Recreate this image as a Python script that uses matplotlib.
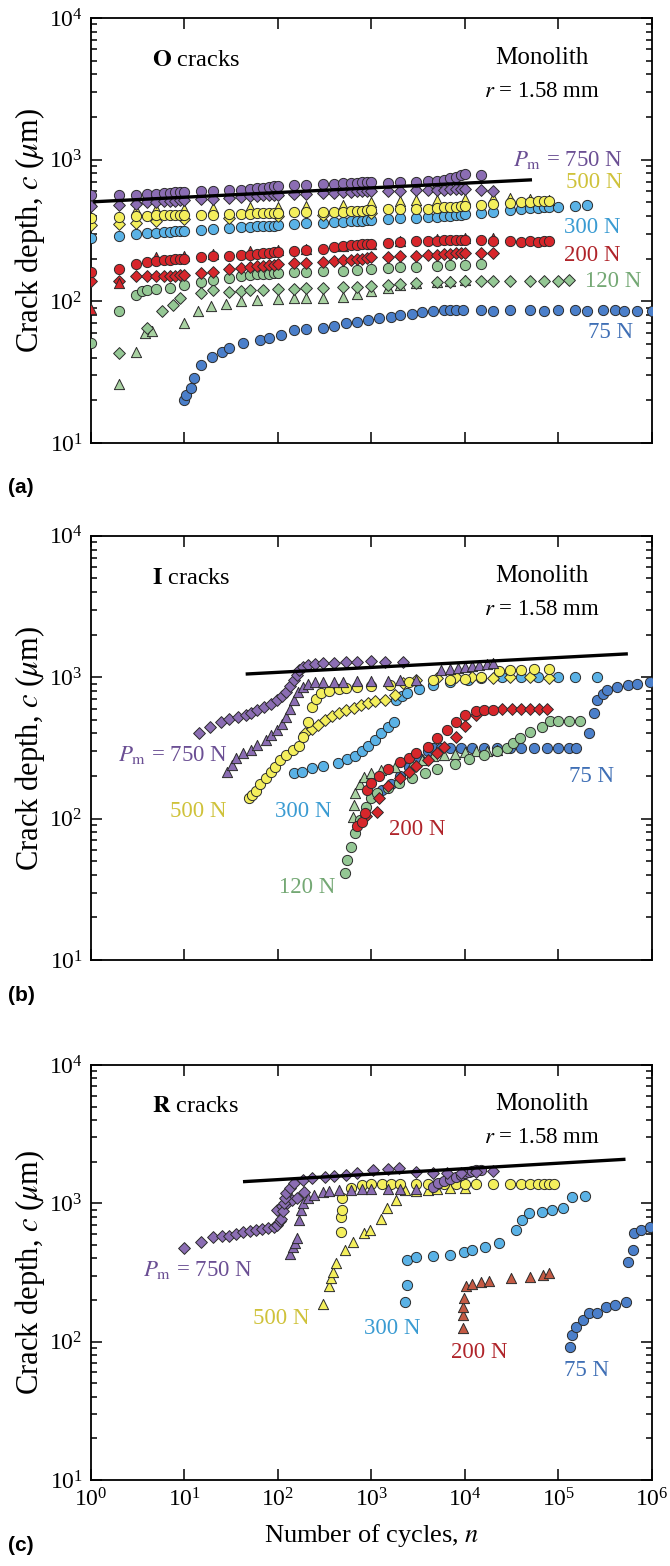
import matplotlib.pyplot as plt
from matplotlib.ticker import FixedLocator, LogLocator, LogFormatterMathtext, NullFormatter, NullLocator

plt.rcParams['font.family'] = ['Liberation Serif', 'DejaVu Serif']
plt.rcParams['mathtext.fontset'] = 'stix'

# fill colours of the markers, per peak load
C750 = '#8b6db3'
C500 = '#f4ef5c'
C300 = '#5ab2e6'
C200 = '#d7262b'
C200R = '#c45a44'
C120 = '#94c794'
C120T = '#a9d2a2'
C75 = '#4b7fca'

# colours of the load labels
L750 = '#6b4f94'
L500 = '#cfc23a'
L300 = '#3a9bd2'
L200 = '#b0242a'
L120 = '#74a874'
L75 = '#3f6fb5'

X_TICKS = [1, 10, 100, 1000, 10000, 100000, 1000000]
Y_TICKS = [10, 100, 1000, 10000]

# ---------------- (a) O cracks ----------------
# cycle counts shared by the dense plateau series
A_N = [1, 2, 3, 4, 5, 6, 7, 8, 9, 10, 15, 20, 30, 40, 50, 60, 70, 80, 90, 100,
       150, 200, 300, 400, 500, 600, 700, 800, 900, 1000, 1500, 2000, 3000, 4000,
       5000, 6000, 7000, 8000, 9000, 10000, 15000, 20000, 30000, 40000, 50000,
       60000, 70000, 80000, 100000, 150000, 200000]

O750_CIRC = [560, 560, 565, 570, 575, 580, 585, 590, 590, 595,
             600, 600, 610, 615, 620, 630, 635, 640, 650, 655,
             660, 665, 670, 675, 680, 690, 690, 700, 700, 700,
             690, 695, 700, 705, 710, 720, 740, 760, 780, 790, 780]
O750_DIAM = [470, 480, 490, 500, 505, 510, 510, 515, 520, 520,
             525, 530, 540, 545, 550, 555, 560, 560, 565, 565,
             570, 575, 580, 585, 590, 595, 600, 600, 600, 600,
             600, 605, 610, 610, 615, 615, 620, 620, 620, 620, 610, 600]
O750_TRI_N = [1, 3, 10, 30, 100, 300, 1000, 3000, 5000]
O750_TRI_C = [510, 530, 560, 580, 600, 640, 650, 660, 680]

O500_CIRC = [390, 395, 400, 400, 405, 405, 405, 410, 410, 410,
             410, 410, 415, 415, 415, 420, 420, 420, 420, 420,
             425, 425, 430, 430, 430, 435, 435, 435, 440, 440,
             445, 445, 450, 450, 455, 460, 460, 465, 470, 470,
             480, 490, 495, 500, 505, 510, 510, 510]
O500_TRI_N = [3, 5, 10, 20, 50, 100, 200, 500, 1000, 2000, 3000, 5000, 10000,
              20000, 30000, 50000, 80000]
O500_TRI_C = [440, 445, 450, 455, 460, 465, 470, 480, 500, 510, 520, 520, 530,
              540, 540, 530, 520]
O500_DIAM_N = [1, 2, 3, 5, 10, 30, 100, 300, 1000]
O500_DIAM_C = [345, 350, 360, 370, 380, 390, 400, 410, 420]

O300_CIRC = [280, 290, 300, 305, 305, 310, 310, 315, 315, 315,
             320, 325, 330, 335, 335, 340, 340, 340, 342, 345,
             350, 355, 360, 362, 365, 368, 370, 372, 375, 378,
             380, 385, 390, 392, 395, 398, 400, 405, 410, 415,
             420, 430, 440, 450, 455, 455, 460, 460, 465, 470, 480]

O200_UP = [160, 170, 185, 190, 192, 195, 195, 198, 200, 200,
           205, 208, 210, 212, 214, 216, 218, 220, 222, 224,
           228, 232, 236, 240, 244, 248, 250, 252, 254, 256,
           260, 262, 265, 266, 268, 270, 270, 272, 272, 272, 270, 268]
O200_DIAM = [140, 140, 150, 150, 150, 150, 152, 152, 153, 153,
             158, 162, 170, 172, 175, 177, 179, 180, 182, 184,
             186, 188, 190, 192, 195, 197, 199, 200, 202, 204,
             206, 208, 210, 212, 214, 215, 216, 218, 220, 220, 220, 218]
O200_END_N = [30000, 40000, 50000, 60000, 70000, 80000]
O200_END_C = [265, 262, 265, 263, 265, 265]
O200_TRI_N = [1, 2, 5, 10, 20, 50, 100, 200, 500, 1000, 2000, 5000, 10000, 20000]
O200_TRI_C = [88, 135, 205, 210, 215, 225, 230, 235, 245, 255, 265, 275, 280, 280]

O120_CIRC_N = [1, 2, 3, 3.5, 4, 5, 7, 10, 15, 20, 30, 40, 50, 60, 70, 80, 90, 100,
               150, 200, 300, 500, 700, 1000, 1500, 2000, 3000, 5000, 7000, 10000, 15000]
O120_CIRC_C = [51, 85, 111, 118, 120, 122, 125, 131, 136, 141, 146, 150, 153, 155,
               156, 157, 158, 158, 160, 162, 163, 165, 167, 170, 172, 174, 176, 178,
               180, 182, 185]
O120_DIAM_N = [2, 4, 5.7, 7.5, 9, 15, 20, 30, 40, 50, 70, 100, 150, 200, 300, 500,
               700, 1000, 1500, 2000, 3000, 5000, 7000, 10000, 15000, 20000, 30000,
               50000, 70000, 100000, 130000]
O120_DIAM_C = [43, 65, 85, 94, 106, 114, 120, 117, 118, 120, 120, 122, 122, 124,
               125, 126, 127, 128, 130, 132, 135, 137, 138, 140, 140, 140, 140, 140,
               140, 140, 142]
O120_TRI_N = [2, 3, 3.8, 4.5, 10, 14, 19, 28, 40, 60, 100, 150, 200, 300, 500, 700,
              1000, 1500, 2000, 3000, 5000, 7000, 10000]
O120_TRI_C = [26, 44, 60, 62, 70, 86, 92, 96, 100, 102, 104, 105, 105, 106, 108,
              112, 118, 125, 130, 135, 138, 140, 142]

O75_N = [10, 10.5, 11.6, 12.5, 15, 19.8, 25, 30, 42, 64, 80, 109, 150, 200, 300,
         400, 540, 700, 920, 1200, 1600, 2000, 2700, 3500, 4500, 6000, 7000, 8000,
         9500, 15000, 20000, 30000, 50000, 70000, 100000, 150000, 200000, 300000,
         400000, 500000, 700000, 1000000]
O75_C = [20, 22, 24.5, 29, 35.6, 40.7, 44, 46.6, 50.6, 53.3, 55, 58, 63, 64, 65,
         67, 70, 72, 74, 76, 78, 80, 82, 84, 86, 87, 87, 87, 87, 87, 86, 87, 87, 86,
         87, 87, 86, 87, 87, 86, 86, 86]

O_LINE_N = [1.1, 50000]
O_LINE_C = [505, 720]

# ---------------- (b) I cracks ----------------
I750_DIAM_N = [14.4, 18.8, 24.5, 30, 37.6, 45, 51.5, 60, 71, 85, 98, 110, 122, 135,
               150, 160, 167, 185, 207, 250, 300, 400, 540, 700, 1000, 1400, 2200]
I750_DIAM_C = [405, 446, 485, 505, 525, 540, 558, 590, 620, 650, 690, 740, 790, 870,
               955, 1030, 1120, 1180, 1220, 1240, 1260, 1270, 1290, 1290, 1300, 1290, 1290]
I750_LATE_N = [5600, 7000, 8500, 10000, 12000, 14000, 17000, 20000]
I750_LATE_C = [1120, 1150, 1170, 1180, 1200, 1220, 1240, 1260]
I750_TRI_N = [28.8, 32, 35.6, 42, 51.6, 60, 75, 85, 98, 110, 122, 135, 150, 165,
              186, 210, 250, 300, 400, 500, 700, 1000, 1500, 2000, 3000]
I750_TRI_C = [215, 240, 270, 290, 306, 330, 360, 390, 424, 470, 525, 600, 690, 780,
              850, 900, 920, 930, 930, 930, 935, 940, 940, 950, 960]

I500_CIRC_N = [49, 53, 58, 65, 75, 84, 93, 105, 122, 145, 167, 186, 207, 230, 255,
               286, 350, 450, 540, 700, 1000, 1580, 2500, 4600, 7000, 10000, 15000,
               23000, 30000, 40000, 55000, 80000]
I500_CIRC_C = [139, 148, 158, 175, 193, 212, 233, 258, 282, 305, 324, 380, 485, 620,
               700, 770, 800, 820, 840, 860, 870, 880, 920, 955, 960, 970, 1000,
               1100, 1120, 1130, 1150, 1150]
I500_DIAM_N = [196, 230, 270, 317, 380, 450, 540, 650, 780, 920, 1100, 1400, 1800,
               2200, 3000, 5000, 8000, 12000, 20000, 30000, 50000, 80000]
I500_DIAM_C = [400, 430, 460, 500, 530, 560, 590, 610, 640, 658, 675, 690, 750, 910,
               960, 980, 1000, 1000, 990, 1000, 1000, 990]

I300_N = [150, 180, 230, 300, 437, 550, 670, 800, 920, 1100, 1260, 1500, 1750, 1850,
          2100, 2400, 3200, 4600, 7000, 10700, 15000, 25000, 40000, 60000, 100000,
          150000, 260000]
I300_C = [209, 215, 227, 235, 247, 262, 276, 300, 324, 360, 400, 445, 485, 690, 740,
          770, 830, 880, 920, 955, 980, 1000, 1000, 1000, 1000, 1000, 1010]

I200_A_N = [700, 800, 850, 900, 1000, 1200, 1500, 2000, 2500, 3000, 4000, 5000,
            6500, 8000, 10000, 13000, 16000, 20000]
I200_A_C = [88, 95, 110, 160, 180, 200, 225, 250, 270, 290, 320, 370, 420, 480, 540,
            580, 590, 590]
I200_B_N = [880, 1140, 1200, 1500, 2000, 2500, 3000, 4000, 5000, 6000, 8000, 10000,
            13000, 25000, 32000, 40000, 50000, 62000, 75000]
I200_B_C = [105, 112, 140, 170, 195, 215, 235, 260, 290, 320, 380, 450, 540, 600,
            600, 600, 600, 600, 600]

I120_CIRC_N = [515, 543, 600, 670, 745, 875, 1000, 1140, 1500, 1950, 2700, 3700,
               5000, 7800, 11000, 16000, 22000, 28000, 33000, 39000, 50000, 66000,
               82000, 100000, 130000, 170000]
I120_CIRC_C = [41, 51, 63, 79, 98, 121, 140, 152, 165, 178, 195, 209, 225, 245, 265,
               282, 300, 314, 340, 372, 410, 446, 493, 493, 493, 493]
I120_TRI_N = [630, 650, 670, 750, 830, 1000, 1260, 1800, 2700, 3500, 4600, 6000,
              7800, 10000, 13000, 17000, 22000]
I120_TRI_C = [103, 125, 152, 175, 198, 210, 219, 232, 245, 260, 276, 283, 288, 296,
              300, 303, 306]

I75_N = [1150, 1300, 1600, 2000, 2500, 3200, 4000, 4600, 5600, 7000, 9000, 12000,
         16000, 22000, 30000, 40000, 55000, 75000, 100000, 130000, 155000, 210000,
         240000, 260000, 300000, 330000, 420000, 550000, 700000, 950000]
I75_C = [150, 160, 175, 200, 230, 270, 300, 314, 314, 314, 314, 314, 314, 314, 314,
         314, 314, 314, 314, 314, 314, 400, 556, 690, 760, 810, 850, 880, 900, 930]

I_LINE_N = [47, 530000]
I_LINE_C = [1055, 1462]

# ---------------- (c) R cracks ----------------
R750_DIAM_N = [10, 15, 20, 25, 30, 36, 42, 50, 58, 68, 79, 90, 98, 105, 109, 112,
               115, 118, 122, 135, 150, 186, 230, 317, 400, 540, 700, 1030, 1500,
               1950, 3000, 4600, 6500, 9000, 13000, 20000]
R750_DIAM_C = [473, 528, 574, 580, 580, 600, 624, 630, 641, 650, 660, 680, 697, 740,
               777, 880, 1000, 1100, 1180, 1300, 1397, 1480, 1520, 1560, 1580, 1600,
               1650, 1740, 1760, 1790, 1690, 1650, 1650, 1660, 1680, 1700]
R750_KNEE_N = [98, 110, 125, 140, 160, 190]
R750_KNEE_C = [890, 950, 1000, 1050, 1100, 1200]
R750_CIRC_N = [4500, 5200, 6000, 7000, 8000, 9000, 10000, 11000, 12000, 13000, 15000]
R750_CIRC_C = [1320, 1400, 1450, 1500, 1550, 1600, 1650, 1680, 1700, 1730, 1750]
R750_TRI_N = [135, 145, 151, 160, 167, 175, 186, 207, 245, 300, 350, 450, 600, 800,
              1000, 1500, 2000, 3000]
R750_TRI_C = [430, 480, 516, 560, 760, 900, 1000, 1100, 1150, 1200, 1230, 1250, 1250,
              1260, 1260, 1260, 1270, 1280]

R500_CIRC_N = [470, 475, 480, 485, 600, 800, 1000, 1300, 1600, 2000, 3000, 4000,
               5000, 6000, 8000, 10000, 13000, 20000, 30000, 40000, 50000, 60000,
               70000, 80000, 90000]
R500_CIRC_C = [624, 800, 890, 1087, 1300, 1360, 1370, 1370, 1370, 1380, 1380, 1380,
               1380, 1380, 1380, 1380, 1380, 1380, 1390, 1390, 1390, 1390, 1390,
               1390, 1390]
R500_TRI_N = [302, 355, 373, 390, 415, 515, 635, 830, 975, 1260, 1480, 1850, 2300,
              3000, 4000, 5000, 7000, 10000]
R500_TRI_C = [187, 251, 287, 320, 368, 460, 528, 606, 641, 777, 920, 1057, 1248,
              1220, 1240, 1260, 1290, 1300]

R300_N = [2300, 2400, 2400, 3000, 4600, 7000, 9700, 12000, 16500, 23000, 35000,
          41000, 48000, 66000, 85000, 112000, 140000, 190000]
R300_C = [195, 257, 389, 411, 416, 424, 447, 460, 486, 513, 641, 759, 848, 870, 896,
          920, 1117, 1135]

R200_N = [9500, 9600, 9600, 9700, 10200, 12000, 14800, 18000, 31000, 50000, 69000, 80000]
R200_C = [125, 155, 179, 206, 251, 263, 272, 276, 287, 295, 303, 312]

R75_N = [132000, 139000, 155000, 182000, 210000, 260000, 325000, 400000, 530000,
         550000, 620000, 650000, 760000, 950000]
R75_C = [92, 112, 128, 144, 160, 160, 179, 184, 195, 378, 460, 607, 641, 677]

R_LINE_N = [44, 500000]
R_LINE_C = [1437, 2080]

SIZES = {'o': 54, 'D': 36, '^': 54}


def dots(ax, n, c, color, marker='o', z=3):
    ax.scatter(n, c, s=SIZES[marker], marker=marker, facecolor=color,
               edgecolor='#2b2b2b', linewidth=0.7, zorder=z)


def style_axis(ax, show_x):
    ax.set_xscale('log')
    ax.set_yscale('log')
    ax.set_xlim(1, 1e6)
    ax.set_ylim(10, 1e4)
    ax.xaxis.set_major_locator(FixedLocator(X_TICKS))
    ax.xaxis.set_minor_locator(NullLocator())
    ax.yaxis.set_major_locator(FixedLocator(Y_TICKS))
    ax.yaxis.set_minor_locator(LogLocator(base=10, subs=range(2, 10), numticks=10))
    ax.yaxis.set_minor_formatter(NullFormatter())
    ax.yaxis.set_major_formatter(LogFormatterMathtext())
    if show_x:
        ax.xaxis.set_major_formatter(LogFormatterMathtext())
    else:
        ax.xaxis.set_major_formatter(NullFormatter())
    ax.tick_params(which='both', direction='in', top=True, right=True,
                   width=1.1, labelsize=17)
    ax.tick_params(which='major', length=8, pad=6)
    ax.tick_params(which='minor', length=4)
    for sp in ax.spines.values():
        sp.set_linewidth(1.3)
    ax.set_ylabel(r'Crack depth, $c$ ($\mu$m)', fontsize=22)
    ax.yaxis.set_label_coords(-0.078, 0.5)


def header(ax, kind_letter):
    ax.text(0.108, 0.9, r'$\mathbf{%s}$ cracks' % kind_letter, transform=ax.transAxes,
            fontsize=17.5, ha='left', va='center')
    ax.text(0.804, 0.905, 'Monolith', transform=ax.transAxes, fontsize=18,
            ha='center', va='center')
    ax.text(0.804, 0.826, r'$r$ = 1.58 mm', transform=ax.transAxes, fontsize=16.5,
            ha='center', va='center')


def tag(ax, x, y, s, color):
    ax.text(x, y, s, transform=ax.transAxes, fontsize=16.5, color=color,
            ha='center', va='center', zorder=6)


fig = plt.figure(figsize=(6.7, 15.66), dpi=100)
left, width = 0.1358, 0.8373
ax_a = fig.add_axes([left, 0.7171, width, 0.2714])
ax_b = fig.add_axes([left, 0.3870, width, 0.2708])
ax_c = fig.add_axes([left, 0.0549, width, 0.2650])

# ---- (a) ----
ax = ax_a
dots(ax, O75_N, O75_C, C75)
dots(ax, O120_TRI_N, O120_TRI_C, C120T, '^')
dots(ax, O120_DIAM_N, O120_DIAM_C, C120, 'D')
dots(ax, O120_CIRC_N, O120_CIRC_C, C120)
dots(ax, A_N[:len(O200_DIAM)], O200_DIAM, C200, 'D')
dots(ax, O200_TRI_N, O200_TRI_C, C200, '^')
dots(ax, A_N[:len(O200_UP)], O200_UP, C200)
dots(ax, O200_END_N, O200_END_C, C200)
dots(ax, A_N[:len(O300_CIRC)], O300_CIRC, C300)
dots(ax, O500_DIAM_N, O500_DIAM_C, C500, 'D')
dots(ax, O500_TRI_N, O500_TRI_C, C500, '^')
dots(ax, A_N[:len(O500_CIRC)], O500_CIRC, C500)
dots(ax, O750_TRI_N, O750_TRI_C, C750, '^')
dots(ax, A_N[:len(O750_DIAM)], O750_DIAM, C750, 'D')
dots(ax, A_N[:len(O750_CIRC)], O750_CIRC, C750)
ax.plot(O_LINE_N, O_LINE_C, color='black', lw=2.4, zorder=5)
style_axis(ax, False)
header(ax, 'O')
tag(ax, 0.85, 0.666, r'$P_\mathrm{m}$ = 750 N', L750)
tag(ax, 0.897, 0.614, '500 N', L500)
tag(ax, 0.893, 0.508, '300 N', L300)
tag(ax, 0.893, 0.442, '200 N', L200)
tag(ax, 0.93, 0.379, '120 N', L120)
tag(ax, 0.927, 0.259, '75 N', L75)

# ---- (b) ----
ax = ax_b
dots(ax, I75_N, I75_C, C75)
dots(ax, I120_TRI_N, I120_TRI_C, C120T, '^')
dots(ax, I120_CIRC_N, I120_CIRC_C, C120)
dots(ax, I200_B_N, I200_B_C, C200, 'D')
dots(ax, I200_A_N, I200_A_C, C200)
dots(ax, I300_N, I300_C, C300)
dots(ax, I500_DIAM_N, I500_DIAM_C, C500, 'D')
dots(ax, I500_CIRC_N, I500_CIRC_C, C500)
dots(ax, I750_TRI_N, I750_TRI_C, C750, '^')
dots(ax, I750_LATE_N, I750_LATE_C, C750, '^')
dots(ax, I750_DIAM_N, I750_DIAM_C, C750, 'D')
ax.plot(I_LINE_N, I_LINE_C, color='black', lw=2.4, zorder=5)
style_axis(ax, False)
header(ax, 'I')
tag(ax, 0.146, 0.483, r'$P_\mathrm{m}$ = 750 N', L750)
tag(ax, 0.191, 0.349, '500 N', L500)
tag(ax, 0.378, 0.349, '300 N', L300)
tag(ax, 0.581, 0.307, '200 N', L200)
tag(ax, 0.385, 0.172, '120 N', L120)
tag(ax, 0.893, 0.432, '75 N', L75)

# ---- (c) ----
ax = ax_c
dots(ax, R75_N, R75_C, C75)
dots(ax, R200_N, R200_C, C200R, '^')
dots(ax, R300_N, R300_C, C300)
dots(ax, R500_TRI_N, R500_TRI_C, C500, '^')
dots(ax, R500_CIRC_N, R500_CIRC_C, C500)
dots(ax, R750_TRI_N, R750_TRI_C, C750, '^')
dots(ax, R750_KNEE_N, R750_KNEE_C, C750, 'D')
dots(ax, R750_CIRC_N, R750_CIRC_C, C750)
dots(ax, R750_DIAM_N, R750_DIAM_C, C750, 'D')
ax.plot(R_LINE_N, R_LINE_C, color='black', lw=2.4, zorder=5)
style_axis(ax, True)
header(ax, 'R')
tag(ax, 0.191, 0.506, r'$P_\mathrm{m}$ = 750 N', L750)
tag(ax, 0.339, 0.39, '500 N', L500)
tag(ax, 0.537, 0.366, '300 N', L300)
tag(ax, 0.692, 0.308, '200 N', L200)
tag(ax, 0.884, 0.265, '75 N', L75)
ax.set_xlabel(r'Number of cycles, $n$', fontsize=19)
ax.xaxis.label.set_va('center')
ax.xaxis.set_label_coords(0.5, -0.133)

for lab, yy in (('(a)', 0.689), ('(b)', 0.3646), ('(c)', 0.0134)):
    fig.text(0.012, yy, lab, fontsize=15, fontweight='bold',
             family='Liberation Sans', ha='left', va='center')

fig.savefig('out.png', dpi=100)
